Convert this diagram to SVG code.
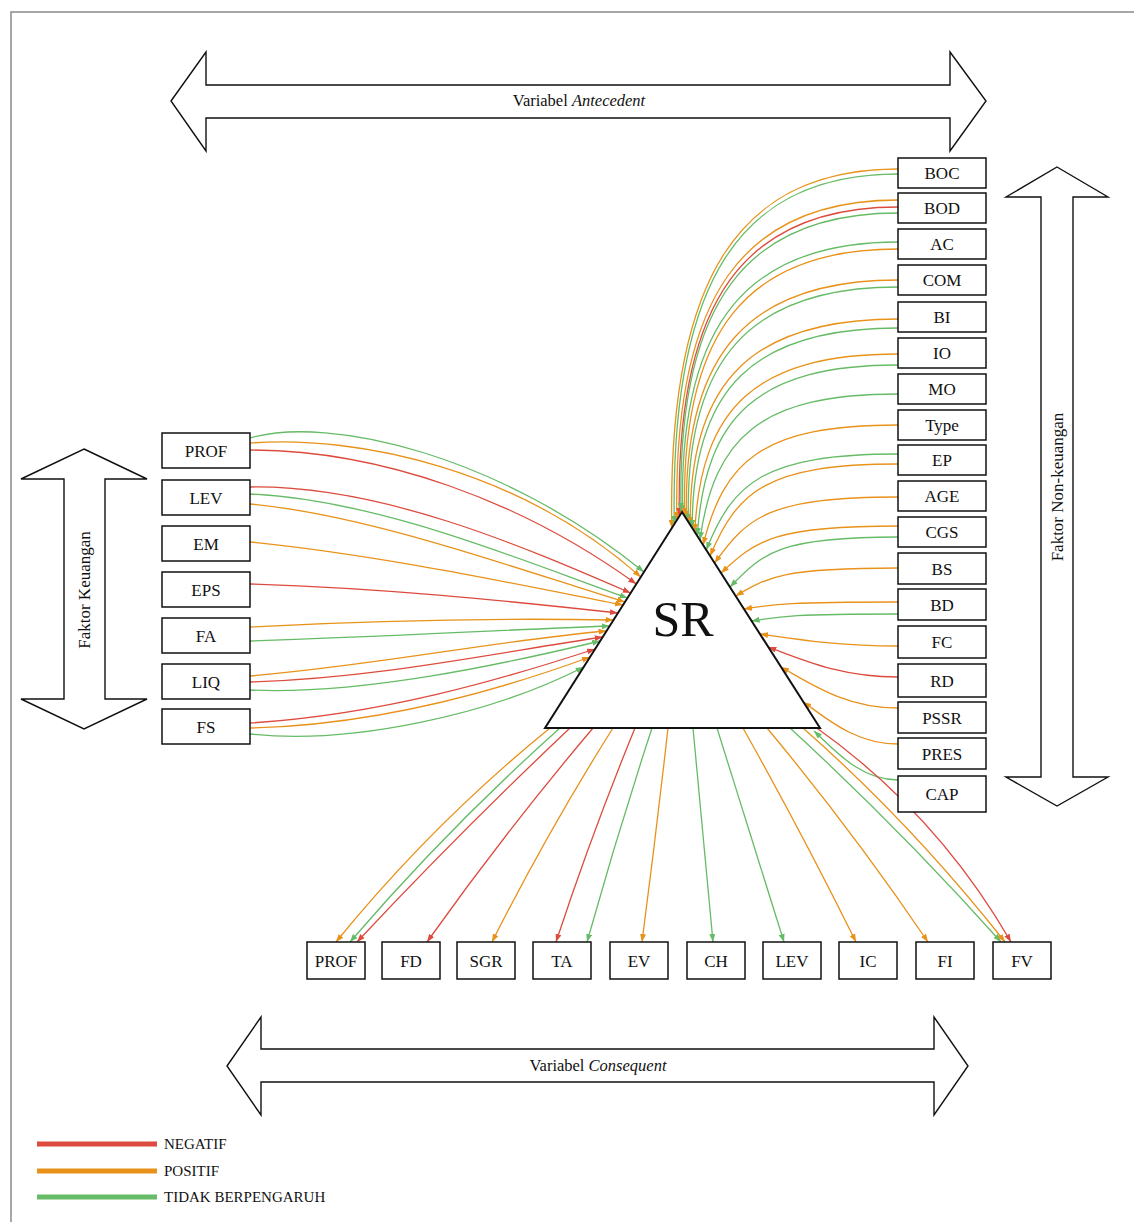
<svg xmlns="http://www.w3.org/2000/svg" width="1134" height="1222" viewBox="0 0 1134 1222">
<style>
  .box { fill: #fff; stroke: #111; stroke-width: 1.5; }
  .big { fill: #fff; stroke: #111; stroke-width: 1.4; }
  .lbl { font-family: "Liberation Serif", "Times New Roman", serif; font-size: 17px; fill: #111; text-anchor: middle; }
  .cap { font-family: "Liberation Serif", "Times New Roman", serif; font-size: 16.5px; fill: #111; text-anchor: middle; }
  .leg { font-family: "Liberation Serif", "Times New Roman", serif; font-size: 15px; fill: #111; }
  .r { fill: none; stroke: #dd4b3e; stroke-width: 1.3; marker-end: url(#mr); }
  .o { fill: none; stroke: #e8921a; stroke-width: 1.3; marker-end: url(#mo); }
  .g { fill: none; stroke: #66bb66; stroke-width: 1.3; marker-end: url(#mg); }
</style>
<defs>
  <marker id="mr" markerUnits="userSpaceOnUse" markerWidth="8" markerHeight="6" refX="8" refY="3" orient="auto"><path d="M0,0 L8,3 L0,6 z" fill="#dd4b3e"/></marker>
  <marker id="mo" markerUnits="userSpaceOnUse" markerWidth="8" markerHeight="6" refX="8" refY="3" orient="auto"><path d="M0,0 L8,3 L0,6 z" fill="#e8921a"/></marker>
  <marker id="mg" markerUnits="userSpaceOnUse" markerWidth="8" markerHeight="6" refX="8" refY="3" orient="auto"><path d="M0,0 L8,3 L0,6 z" fill="#66bb66"/></marker>
</defs>
<rect x="0" y="0" width="1134" height="1222" fill="#fff"/>
<rect x="11" y="12" width="1140" height="1230" fill="none" stroke="#8a8a8a" stroke-width="1.5"/>

<g id="arrow-antecedent">
  <polygon class="big" points="171,101 206,52 206,85 950,85 950,52 986,101 950,151 950,118 206,118 206,151"/>
  <text class="cap" x="579" y="106">Variabel <tspan font-style="italic">Antecedent</tspan></text>
</g>
<g id="arrow-consequent">
  <polygon class="big" points="227,1066 261,1017 261,1049 934,1049 934,1017 968,1066 934,1115 934,1082 261,1082 261,1115"/>
  <text class="cap" x="598" y="1071">Variabel <tspan font-style="italic">Consequent</tspan></text>
</g>
<g id="arrow-keuangan">
  <polygon class="big" points="84,449 147,479 105,479 105,699 147,699 84,729 21,699 64,699 64,479 21,479"/>
  <text class="lbl" transform="translate(90,590) rotate(-90)">Faktor Keuangan</text>
</g>
<g id="arrow-nonkeuangan">
  <polygon class="big" points="1057,167 1108,197 1073,197 1073,777 1108,777 1057,806 1006,777 1041,777 1041,197 1006,197"/>
  <text class="lbl" transform="translate(1063,487) rotate(-90)">Faktor Non-keuangan</text>
</g>

<g id="connectors">
  <!-- left -->
  <path class="g" d="M250,438 C330,415 500,455 643.9,572"/>
  <path class="o" d="M250,443 C360,435 520,470 640.8,577"/>
  <path class="r" d="M250,450 C380,450 520,500 636.3,584"/>
  <path class="r" d="M250,487 C380,485 520,545 630.6,593"/>
  <path class="g" d="M250,494 C380,500 520,560 627.5,598"/>
  <path class="o" d="M250,504 C370,515 520,570 624.9,602"/>
  <path class="o" d="M250,542 C380,555 520,585 623,605"/>
  <path class="r" d="M250,584 C380,588 500,600 618,613"/>
  <path class="o" d="M250,627 C380,620 500,618 613.5,620"/>
  <path class="g" d="M250,641 C380,637 500,630 609.7,626"/>
  <path class="o" d="M250,676 C380,665 500,640 606.5,631"/>
  <path class="r" d="M250,682 C380,678 500,652 602.7,637"/>
  <path class="g" d="M250,690 C360,695 500,665 600.2,641"/>
  <path class="r" d="M250,723 C380,715 500,680 595.1,649"/>
  <path class="o" d="M250,728 C380,725 500,690 590,657"/>
  <path class="g" d="M250,734 C350,745 490,715 583.7,667"/>
  <!-- right -->
  <path class="o" d="M898,169 C739.7,169 667.3,276.7 671.8,528"/>
  <path class="g" d="M898,174 C741.4,174 669.8,279 674.3,524"/>
  <path class="o" d="M898,200 C743.2,200 672.5,296 676.9,520"/>
  <path class="r" d="M898,207 C745,207 675,299.7 679.4,516"/>
  <path class="g" d="M898,213 C746.1,213 676.7,302.4 681,511"/>
  <path class="g" d="M898,242 C747.2,242 678.3,323.3 682.6,513"/>
  <path class="o" d="M898,249 C748.6,249 680.3,329.1 684.6,516"/>
  <path class="o" d="M898,280 C750,280 682.3,351.7 686.5,519"/>
  <path class="g" d="M898,287 C751.3,287 684.2,357.5 688.4,522"/>
  <path class="o" d="M898,319 C752.6,319 688.6,380.8 690.3,525"/>
  <path class="g" d="M898,328 C753.9,328 692.2,388 692.2,528"/>
  <path class="o" d="M898,354 C755.8,354 700.8,407.4 694.8,532"/>
  <path class="g" d="M898,365 C757.5,365 705.1,416.3 697.3,536"/>
  <path class="g" d="M898,394 C759.3,394 714.2,437.8 699.9,540"/>
  <path class="o" d="M898,425 C761.6,425 723.9,461 703.1,545"/>
  <path class="g" d="M898,454 C763.8,454 732.9,482.8 706.3,550"/>
  <path class="o" d="M898,464 C766.5,464 737.2,491.6 710.1,556"/>
  <path class="o" d="M898,497 C769.6,497 747.4,516.8 714.6,563"/>
  <path class="o" d="M898,526 C774.1,526 756.4,540.1 721,573"/>
  <path class="g" d="M898,537 C780.4,537 763.6,552 730,587"/>
  <path class="o" d="M898,568 C784.4,568 768.2,576.4 735.7,596"/>
  <path class="o" d="M898,602 C790.2,602 774.8,604.1 744,609"/>
  <path class="g" d="M898,614 C795.5,614 780.9,616.1 751.6,621"/>
  <path class="o" d="M898,646 C835.9,646 794.5,638.8 760,634"/>
  <path class="r" d="M898,677 C839.6,677 800.7,659 768.3,647"/>
  <path class="o" d="M898,708 C845.4,708 810.3,683.4 781,667"/>
  <path class="o" d="M898,744 C855.4,744 827,718.8 803.4,702"/>
  <path class="g" d="M898,780 C860.2,780 835,750.6 814,731"/>
  <!-- bottom -->
  <path class="o" d="M550,728 Q432,824 336,942"/>
  <path class="g" d="M560,728 Q448,828 350,942"/>
  <path class="r" d="M570,728 Q460,832 357,942"/>
  <path class="r" d="M593,728 Q506,831 427,942"/>
  <path class="o" d="M613,728 Q548,831 492,942"/>
  <path class="r" d="M635,728 Q592,833 556,942"/>
  <path class="g" d="M652,728 Q617,835 587,942"/>
  <path class="o" d="M668,728 Q656,835 642,942"/>
  <path class="g" d="M693,728 Q703,835 713,942"/>
  <path class="g" d="M717,728 Q751,835 784,942"/>
  <path class="o" d="M743,728 Q802,833 856,942"/>
  <path class="o" d="M767,728 Q852,830 928,942"/>
  <path class="g" d="M790,728 Q900,829 1001,942"/>
  <path class="o" d="M803,728 Q912,824 1005,942"/>
  <path class="r" d="M814,726 Q936,812 1011,942"/>
</g>

<g id="node-SR">
  <polygon points="682,512 820,728 545,728" fill="#fff" stroke="#111" stroke-width="2"/>
  <text x="683" y="636" font-family="Liberation Serif, Times New Roman, serif" font-size="50" text-anchor="middle" fill="#111">SR</text>
</g>

<g id="node-L-PROF"><rect class="box" x="162" y="433" width="88" height="35"/><text class="lbl" x="206" y="456.5">PROF</text></g>
<g id="node-L-LEV"><rect class="box" x="162" y="480" width="88" height="35"/><text class="lbl" x="206" y="503.5">LEV</text></g>
<g id="node-L-EM"><rect class="box" x="162" y="526" width="88" height="35"/><text class="lbl" x="206" y="549.5">EM</text></g>
<g id="node-L-EPS"><rect class="box" x="162" y="572" width="88" height="35"/><text class="lbl" x="206" y="595.5">EPS</text></g>
<g id="node-L-FA"><rect class="box" x="162" y="618" width="88" height="35"/><text class="lbl" x="206" y="641.5">FA</text></g>
<g id="node-L-LIQ"><rect class="box" x="162" y="664" width="88" height="35"/><text class="lbl" x="206" y="687.5">LIQ</text></g>
<g id="node-L-FS"><rect class="box" x="162" y="709" width="88" height="35"/><text class="lbl" x="206" y="732.5">FS</text></g>

<g id="node-BOC"><rect class="box" x="898" y="158" width="88" height="30"/><text class="lbl" x="942" y="179">BOC</text></g>
<g id="node-BOD"><rect class="box" x="898" y="193" width="88" height="30"/><text class="lbl" x="942" y="214">BOD</text></g>
<g id="node-AC"><rect class="box" x="898" y="229" width="88" height="30"/><text class="lbl" x="942" y="250">AC</text></g>
<g id="node-COM"><rect class="box" x="898" y="265" width="88" height="30"/><text class="lbl" x="942" y="286">COM</text></g>
<g id="node-BI"><rect class="box" x="898" y="302" width="88" height="30"/><text class="lbl" x="942" y="323">BI</text></g>
<g id="node-IO"><rect class="box" x="898" y="338" width="88" height="30"/><text class="lbl" x="942" y="359">IO</text></g>
<g id="node-MO"><rect class="box" x="898" y="374" width="88" height="30"/><text class="lbl" x="942" y="395">MO</text></g>
<g id="node-Type"><rect class="box" x="898" y="410" width="88" height="30"/><text class="lbl" x="942" y="431">Type</text></g>
<g id="node-EP"><rect class="box" x="898" y="445" width="88" height="30"/><text class="lbl" x="942" y="466">EP</text></g>
<g id="node-AGE"><rect class="box" x="898" y="481" width="88" height="30"/><text class="lbl" x="942" y="502">AGE</text></g>
<g id="node-CGS"><rect class="box" x="898" y="517" width="88" height="30"/><text class="lbl" x="942" y="538">CGS</text></g>
<g id="node-BS"><rect class="box" x="898" y="553" width="88" height="31"/><text class="lbl" x="942" y="574.5">BS</text></g>
<g id="node-BD"><rect class="box" x="898" y="589" width="88" height="31"/><text class="lbl" x="942" y="610.5">BD</text></g>
<g id="node-FC"><rect class="box" x="898" y="626" width="88" height="32"/><text class="lbl" x="942" y="648">FC</text></g>
<g id="node-RD"><rect class="box" x="898" y="664" width="88" height="33"/><text class="lbl" x="942" y="686.5">RD</text></g>
<g id="node-PSSR"><rect class="box" x="898" y="702" width="88" height="31"/><text class="lbl" x="942" y="723.5">PSSR</text></g>
<g id="node-PRES"><rect class="box" x="898" y="738" width="88" height="31"/><text class="lbl" x="942" y="759.5">PRES</text></g>
<g id="node-CAP"><rect class="box" x="898" y="776" width="88" height="36"/><text class="lbl" x="942" y="800">CAP</text></g>

<g id="node-B-PROF"><rect class="box" x="307" y="942" width="58" height="37"/><text class="lbl" x="336" y="966.5">PROF</text></g>
<g id="node-B-FD"><rect class="box" x="382" y="942" width="58" height="37"/><text class="lbl" x="411" y="966.5">FD</text></g>
<g id="node-B-SGR"><rect class="box" x="457" y="942" width="58" height="37"/><text class="lbl" x="486" y="966.5">SGR</text></g>
<g id="node-B-TA"><rect class="box" x="533" y="942" width="58" height="37"/><text class="lbl" x="562" y="966.5">TA</text></g>
<g id="node-B-EV"><rect class="box" x="610" y="942" width="58" height="37"/><text class="lbl" x="639" y="966.5">EV</text></g>
<g id="node-B-CH"><rect class="box" x="687" y="942" width="58" height="37"/><text class="lbl" x="716" y="966.5">CH</text></g>
<g id="node-B-LEV"><rect class="box" x="763" y="942" width="58" height="37"/><text class="lbl" x="792" y="966.5">LEV</text></g>
<g id="node-B-IC"><rect class="box" x="839" y="942" width="58" height="37"/><text class="lbl" x="868" y="966.5">IC</text></g>
<g id="node-B-FI"><rect class="box" x="916" y="942" width="58" height="37"/><text class="lbl" x="945" y="966.5">FI</text></g>
<g id="node-B-FV"><rect class="box" x="993" y="942" width="58" height="37"/><text class="lbl" x="1022" y="966.5">FV</text></g>

<g id="legend">
  <line x1="37" y1="1144" x2="157" y2="1144" stroke="#dd4b3e" stroke-width="5"/>
  <line x1="37" y1="1171" x2="157" y2="1171" stroke="#e8921a" stroke-width="5"/>
  <line x1="37" y1="1197" x2="157" y2="1197" stroke="#66bb66" stroke-width="5"/>
  <text class="leg" x="164" y="1149">NEGATIF</text>
  <text class="leg" x="164" y="1176">POSITIF</text>
  <text class="leg" x="164" y="1202">TIDAK BERPENGARUH</text>
</g>
</svg>
